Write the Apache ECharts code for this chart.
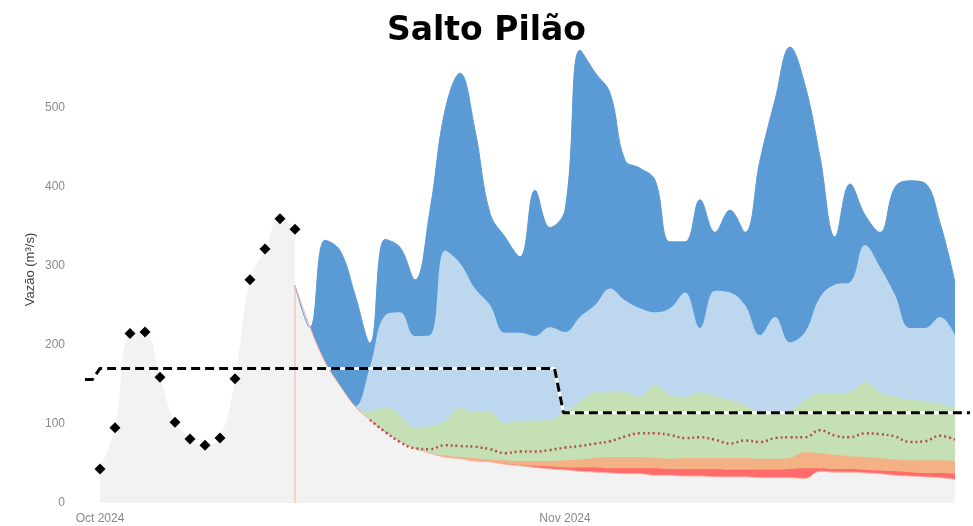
<!DOCTYPE html>
<html>
<head>
<meta charset="utf-8">
<script src="https://cdn.jsdelivr.net/npm/echarts@6/dist/echarts.min.js"></script>
<style>
  html, body { margin: 0; padding: 0; background: #ffffff; }
  #chart { width: 973px; height: 526px; }
</style>
</head>
<body>
<div id="chart"></div>
<script>
// Day index 0 = 1 Oct 2024
const xTickDays = [0, 31];
const xTickLabels = ['Oct 2024', 'Nov 2024'];
const yTicks = [0, 100, 200, 300, 400, 500];

// Observed daily flow (m³/s), 1–14 Oct
const observedDays = [0, 1, 2, 3, 4, 5, 6, 7, 8, 9, 10, 11, 12, 13];
const observed = [43, 95, 214, 216, 159, 102, 81, 73, 82, 157, 282, 321, 359, 346];

// Ensemble forecast, daily from day 13 (14 Oct) to day 57 (27 Nov)
const forecastDays = [13, 14, 15, 16, 17, 18, 19, 20, 21, 22, 23, 24, 25, 26, 27,
  28, 29, 30, 31, 32, 33, 34, 35, 36, 37, 38, 39, 40, 41, 42, 43, 44, 45, 46, 47,
  48, 49, 50, 51, 52, 53, 54, 55, 56, 57];
const fcMin = [275, 222, 178, 148, 122, 105, 90, 78, 69, 63, 58, 56, 53, 52, 49,
  47, 45, 43, 42, 40, 39, 38, 37, 37, 35, 35, 34, 34, 33, 33, 33, 32, 32, 32, 31,
  40, 39, 39, 38, 37, 35, 34, 33, 32, 30];
const fcP10 = [275, 222, 178, 148, 122, 105, 90, 78, 69, 63, 58, 56, 53, 52, 50,
  48, 47, 46, 45, 45, 45, 44, 44, 44, 44, 43, 43, 43, 43, 42, 42, 42, 42, 43, 44,
  44, 43, 43, 42, 41, 40, 39, 38, 38, 37];
const fcP25 = [275, 222, 178, 148, 122, 105, 90, 78, 69, 63, 60, 58, 57, 55, 54,
  53, 53, 53, 54, 55, 57, 58, 58, 58, 57, 56, 57, 57, 57, 57, 57, 56, 56, 57, 64,
  63, 61, 59, 58, 57, 55, 54, 54, 54, 53];
const fcP75 = [275, 222, 178, 148, 122, 115, 121, 111, 95, 97, 104, 120, 115, 115, 101,
  104, 104, 105, 115, 128, 139, 140, 140, 134, 149, 136, 134, 140, 135, 130, 124, 114, 114, 117, 130,
  139, 139, 140, 153, 140, 134, 130, 129, 125, 120];
const fcP90 = [275, 222, 178, 148, 122, 172, 237, 241, 211, 212, 319, 303, 271, 250, 215,
  215, 211, 222, 216, 235, 250, 271, 256, 246, 241, 246, 266, 221, 268, 266, 250, 212, 235, 203, 216,
  260, 276, 279, 326, 298, 263, 221, 221, 235, 212];
const fcMax = [275, 222, 332, 319, 263, 202, 333, 323, 282, 370, 496, 543, 471, 366, 336,
  311, 395, 348, 370, 572, 544, 518, 433, 423, 408, 330, 330, 383, 342, 370, 342, 433, 509, 576, 528,
  437, 336, 403, 364, 342, 399, 407, 404, 354, 279];

// Ensemble median, drawn once it leaves the recession curve (day 18 onward)
const medianDays = [18, 19, 20, 21, 22, 23, 24, 25, 26, 27, 28, 29, 30, 31, 32,
  33, 34, 35, 36, 37, 38, 39, 40, 41, 42, 43, 44, 45, 46, 47, 48, 49, 50, 51, 52,
  53, 54, 55, 56, 57];
const fcMedian = [105, 90, 77, 69, 68, 73, 72, 71, 68, 63,
  65, 65, 67, 70, 72, 75, 78, 84, 88, 88, 86, 82, 83, 80, 75, 79, 77, 82, 83, 83,
  92, 85, 83, 88, 87, 84, 77, 78, 85, 80];

// Monthly reference flow (end of Sep, Oct, Nov)
const refDays = [-1, -0.5, 0, 30.3, 30.9, 58];
const refValues = [156, 156, 170, 170, 114, 114];

const pairs = (xs, ys) => xs.map((x, i) => [x, ys[i]]);

function band(name, values, color, extra) {
  return Object.assign({
    name: name,
    type: 'line',
    data: pairs(forecastDays, values),
    smooth: 0.4,
    showSymbol: false,
    symbol: 'none',
    lineStyle: { width: 0, color: color },
    areaStyle: { color: color, opacity: 1 },
    silent: true
  }, extra || {});
}

const chart = echarts.init(document.getElementById('chart'), null, { renderer: 'canvas' });

chart.setOption({
  animation: false,
  backgroundColor: '#ffffff',
  title: {
    text: 'Salto Pilão',
    left: 'center',
    top: 10,
    textStyle: { fontFamily: 'DejaVu Sans', fontWeight: 'bold', fontSize: 33, color: '#000000' }
  },
  grid: { left: 85, right: 3, top: 36, bottom: 23 },
  xAxis: {
    type: 'value',
    min: -1,
    max: 58,
    axisLine: { show: false },
    axisTick: { show: false },
    splitLine: { show: false },
    axisLabel: {
      customValues: xTickDays,
      formatter: v => xTickLabels[xTickDays.indexOf(v)] || '',
      color: '#888888',
      fontSize: 12,
      fontFamily: 'Liberation Sans',
      margin: 10
    }
  },
  yAxis: {
    type: 'value',
    min: 0,
    max: 590,
    interval: 100,
    name: 'Vazão (m³/s)',
    nameLocation: 'middle',
    nameGap: 48,
    nameMoveOverlap: false,
    nameTextStyle: { color: '#444444', fontSize: 13, fontFamily: 'Liberation Sans' },
    axisLine: { show: false },
    axisTick: { show: false },
    splitLine: { show: false },
    axisLabel: {
      showMaxLabel: false,
      formatter: v => (yTicks.indexOf(v) >= 0 ? String(v) : ''),
      color: '#8a8a8a',
      fontSize: 12,
      fontFamily: 'Liberation Sans',
      margin: 20
    }
  },
  series: [
    {
      name: 'Observado (área)',
      type: 'line',
      data: pairs(observedDays, observed),
      smooth: 0.4,
      symbol: 'none',
      lineStyle: { width: 0, color: '#f2f2f2' },
      areaStyle: { color: '#f2f2f2', opacity: 1 },
      silent: true
    },
    band('Máximo', fcMax, '#5b9bd5', { lineStyle: { width: 1, color: '#5b9bd5' } }),
    band('P90', fcP90, '#bdd7ee'),
    band('P75', fcP75, '#c5e0b4'),
    band('P25', fcP25, '#f4b183'),
    band('P10', fcP10, '#ff6b6b'),
    band('Mínimo', fcMin, '#f2f2f2', { lineStyle: { width: 1, color: '#f7b5a8' } }),
    {
      name: 'Início da previsão',
      type: 'line',
      data: [[forecastDays[0], 0], [forecastDays[0], fcMin[0]]],
      symbol: 'none',
      lineStyle: { width: 1, color: '#f3b3a4' },
      silent: true
    },
    {
      name: 'Mediana',
      type: 'line',
      data: pairs(medianDays, fcMedian),
      smooth: 0.4,
      symbol: 'none',
      lineStyle: { width: 2.5, color: '#b0504d', type: [2, 3] },
      silent: true
    },
    {
      name: 'Observado',
      type: 'line',
      data: pairs(observedDays, observed),
      showSymbol: true,
      symbol: 'diamond',
      symbolSize: 11,
      lineStyle: { width: 0, opacity: 0 },
      itemStyle: { color: '#000000', borderWidth: 0, opacity: 1 },
      z: 5,
      silent: true
    },
    {
      name: 'MLT (fundo)',
      type: 'line',
      data: pairs(refDays, refValues),
      symbol: 'none',
      lineStyle: { width: 3, color: '#ffffff' },
      silent: true
    },
    {
      name: 'MLT',
      type: 'line',
      data: pairs(refDays, refValues),
      symbol: 'none',
      lineStyle: { width: 3, color: '#000000', type: [9, 5] },
      silent: true
    }
  ]
});
</script>
</body>
</html>
